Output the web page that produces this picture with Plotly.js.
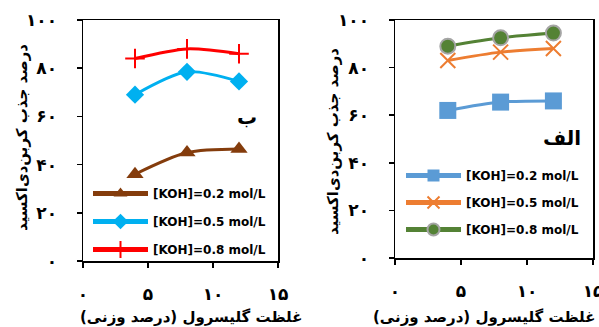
<!DOCTYPE html>
<html>
<head>
<meta charset="utf-8">
<script src="https://cdn.plot.ly/plotly-3.0.1.min.js"></script>
<style>html,body{margin:0;padding:0;background:#fff;}#chart{width:599px;height:327px;}</style>
</head>
<body>
<div id="chart"></div>
<script>
// Data
const glycerol = [4, 8, 12];
// Panel "ب"
const b_koh02 = [36, 45, 46.5];
const b_koh05 = [69, 78.5, 74.5];
const b_koh08 = [84, 88, 86];
// Panel "الف"
const a_koh02 = [62, 65.5, 66];
const a_koh05 = [83, 86.5, 88];
const a_koh08 = [89, 92.5, 94.5];

const seriesNames = ['[KOH]=0.2 mol/L', '[KOH]=0.5 mol/L', '[KOH]=0.8 mol/L'];
const xTickVals = [0, 5, 10, 15];
const xTickText = ['۰', '۵', '۱۰', '۱۵'];
const yTickVals = [0, 20, 40, 60, 80, 100];
const yTickText = ['۰', '۲۰', '۴۰', '۶۰', '۸۰', '۱۰۰'];
const yTitle = 'درصد جذب کربن‌دی‌اکسید';
const xTitle = 'غلظت گلیسرول (درصد وزنی)';
const panelLabels = ['ب', 'الف'];

const FONT = 'DejaVu Sans';

function tr(x, y, name, color, sym, msize, mcolor, mline, xa, ya, legend, grp) {
  return {
    x: x, y: y, name: name, type: 'scatter', mode: 'lines+markers',
    xaxis: xa, yaxis: ya, legend: legend, legendgroup: grp,
    line: {color: color, width: 3, shape: 'spline', smoothing: 0.8},
    marker: {symbol: sym, size: msize, color: mcolor, line: mline}
  };
}

const data = [
  tr(glycerol, b_koh02, seriesNames[0], '#843C0C', 'triangle-up', 15, '#843C0C', {width: 0}, 'x', 'y', 'legend', 'b1'),
  tr(glycerol, b_koh05, seriesNames[1], '#00B0F0', 'diamond', 14, '#00B0F0', {width: 0}, 'x', 'y', 'legend', 'b2'),
  tr(glycerol, b_koh08, seriesNames[2], '#FF0000', 'cross-thin', 14, '#FF0000', {width: 2, color: '#FF0000'}, 'x', 'y', 'legend', 'b3'),
  tr(glycerol, a_koh02, seriesNames[0], '#5B9BD5', 'square', 17, '#5B9BD5', {width: 0}, 'x2', 'y2', 'legend2', 'a1'),
  tr(glycerol, a_koh05, seriesNames[1], '#ED7D31', 'x-thin', 15, '#ED7D31', {width: 2, color: '#ED7D31'}, 'x2', 'y2', 'legend2', 'a2'),
  tr(glycerol, a_koh08, seriesNames[2], '#548235', 'circle', 15, '#548235', {width: 2, color: '#A5A5A5'}, 'x2', 'y2', 'legend2', 'a3')
];

function xaxis(domain, anchor) {
  return {
    domain: domain, anchor: anchor, range: [0, 15], tickvals: xTickVals, ticktext: xTickText,
    showgrid: false, zeroline: false, showline: true, mirror: true, linecolor: '#000', linewidth: 1.5,
    ticks: 'outside', ticklen: 5, tickwidth: 1.5, tickcolor: '#000', ticklabelstandoff: 12,
    ticklabeloverflow: 'allow',
    tickfont: {family: FONT, size: 17, color: '#000', weight: 'bold'}
  };
}
function yaxis(domain, anchor) {
  return {
    domain: domain, anchor: anchor, range: [0, 100], tickvals: yTickVals, ticktext: yTickText,
    showgrid: false, zeroline: false, showline: true, mirror: true, linecolor: '#000', linewidth: 1.5,
    ticks: 'outside', ticklen: 5, tickwidth: 1.5, tickcolor: '#000', ticklabelstandoff: 16,
    tickfont: {family: FONT, size: 17, color: '#000', weight: 'bold'}
  };
}

const legendFont = {family: FONT, size: 12, color: '#000', weight: 'bold'};

const layout = {
  width: 599, height: 327,
  margin: {l: 0, r: 0, t: 0, b: 0},
  paper_bgcolor: '#fff', plot_bgcolor: '#fff',
  showlegend: true,
  xaxis: xaxis([83/599, 278/599], 'y'),
  yaxis: yaxis([66/327, 307/327], 'x'),
  xaxis2: xaxis([395/599, 593/599], 'y2'),
  yaxis2: yaxis([69/327, 307/327], 'x2'),
  legend: {x: 88/599, y: 148/327, xanchor: 'left', yanchor: 'top', bgcolor: 'rgba(0,0,0,0)',
           font: legendFont, tracegroupgap: 9, itemsizing: 'constant', itemwidth: 55},
  legend2: {x: 401/599, y: 166/327, xanchor: 'left', yanchor: 'top', bgcolor: 'rgba(0,0,0,0)',
            font: legendFont, tracegroupgap: 8, itemsizing: 'constant', itemwidth: 55},
  annotations: [
    {text: yTitle, xref: 'paper', yref: 'paper', x: 22/599, y: (327-138)/327, textangle: -90,
     xanchor: 'center', yanchor: 'middle',
     showarrow: false, font: {family: FONT, size: 15, color: '#000', weight: 'bold'}},
    {text: yTitle, xref: 'paper', yref: 'paper', x: 333/599, y: (327-142)/327, textangle: -90,
     xanchor: 'center', yanchor: 'middle',
     showarrow: false, font: {family: FONT, size: 15, color: '#000', weight: 'bold'}},
    {text: xTitle, xref: 'paper', yref: 'paper', x: 191/599, y: (327-317)/327,
     xanchor: 'center', yanchor: 'middle',
     showarrow: false, font: {family: FONT, size: 15, color: '#000', weight: 'bold'}},
    {text: xTitle, xref: 'paper', yref: 'paper', x: 597/599, y: (327-317)/327,
     xanchor: 'right', yanchor: 'middle',
     showarrow: false, font: {family: FONT, size: 15, color: '#000', weight: 'bold'}},
    {text: panelLabels[0], xref: 'paper', yref: 'paper', x: 247/599, y: (327-117)/327,
     xanchor: 'center', yanchor: 'middle',
     showarrow: false, font: {family: FONT, size: 20, color: '#000', weight: 'bold'}},
    {text: panelLabels[1], xref: 'paper', yref: 'paper', x: 562/599, y: (327-138)/327,
     xanchor: 'center', yanchor: 'middle',
     showarrow: false, font: {family: FONT, size: 20, color: '#000', weight: 'bold'}}
  ]
};

Plotly.newPlot('chart', data, layout, {displayModeBar: false, staticPlot: true});
</script>
</body>
</html>
